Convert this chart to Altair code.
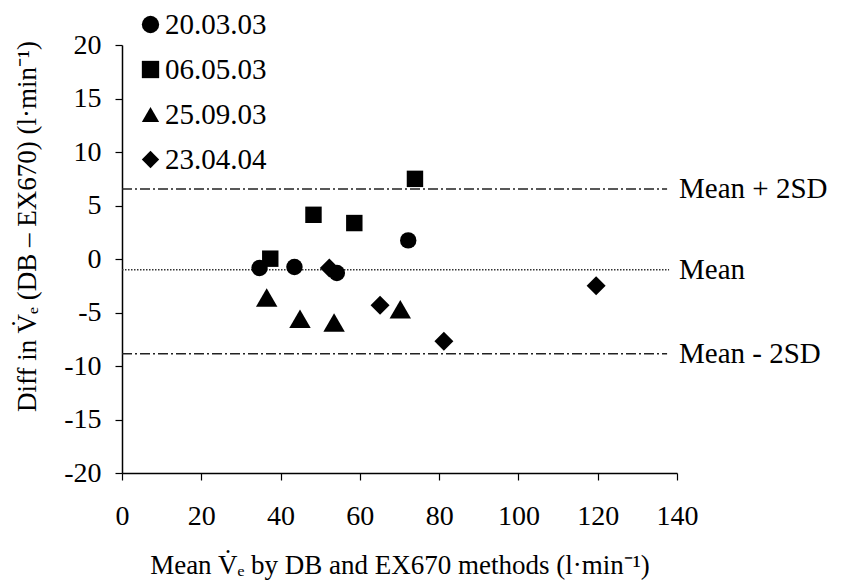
import altair as alt
import pandas as pd

# ---- data ----
session = ["20.03.03"] * 4 + ["06.05.03"] * 4 + ["25.09.03"] * 4 + ["23.04.04"] * 4
mean_ve = [34.7, 43.5, 54.2, 72.2,
           37.4, 48.3, 58.6, 73.9,
           36.5, 44.9, 53.5, 70.2,
           52.3, 65.1, 81.2, 119.6]
diff_ve = [-0.84, -0.75, -1.31, 1.74,
           0.03, 4.13, 3.36, 7.49,
           -3.59, -5.59, -5.93, -4.70,
           -0.84, -4.33, -7.69, -2.49]

session_order = ["20.03.03", "06.05.03", "25.09.03", "23.04.04"]
session_shapes = ["circle", "square", "triangle-up", "diamond"]

line_names = ["Mean + 2SD", "Mean", "Mean - 2SD"]
line_values = [6.55, -1.0, -8.85]
line_start = [0, 0, 0]
line_end = [137.5, 138.0, 137.5]
line_kind = ["limit", "mean", "limit"]
label_x = [140, 140, 140]

x_ticks = [0, 20, 40, 60, 80, 100, 120, 140]
y_ticks = [-20, -15, -10, -5, 0, 5, 10, 15, 20]

FONT = "Liberation Serif"

points = pd.DataFrame({"session": session, "mean": mean_ve, "diff": diff_ve})
lines = pd.DataFrame({"name": line_names, "y": line_values, "x0": line_start,
                      "x1": line_end, "kind": line_kind, "lx": label_x})

xscale = alt.Scale(domain=[0, 140], nice=False, zero=False)
yscale = alt.Scale(domain=[-20, 20], nice=False, zero=False)

x_title = "Mean V\u0307\u2091  by DB and EX670 methods (l\u00b7min\u207b\u00b9)"
y_title = "Diff in V\u0307\u2091 (DB \u2013 EX670) (l\u00b7min\u207b\u00b9)"

x_axis = alt.Axis(values=x_ticks, title=x_title, grid=False, labelFlush=False,
                  tickSize=7, labelPadding=22, labelFontSize=28,
                  labelExpr="'' + datum.value",
                  titleFontSize=27, titleFontWeight="normal",
                  titleBaseline="alphabetic", titleY=100)
y_axis = alt.Axis(values=y_ticks, title=y_title, grid=False, labelFlush=False,
                  tickSize=7, labelPadding=14, labelFontSize=28,
                  labelExpr="'' + datum.value",
                  titleFontSize=27, titleFontWeight="normal",
                  titleAngle=270, titleBaseline="middle", titleAlign="center",
                  titleX=-95, titleY=181)

legend = alt.Legend(title=None, orient="none", legendX=14, legendY=-35,
                    labelFont=FONT, labelFontSize=29, labelColor="black",
                    symbolSize=300,
                    symbolFillColor="black", symbolStrokeColor="black",
                    symbolStrokeWidth=0, symbolOpacity=1,
                    rowPadding=15, labelOffset=0, padding=0)

pts = alt.Chart(points).transform_calculate(
    sz="datum.session == '25.09.03' ? 460 : (datum.session == '23.04.04' ? 360 : 270)"
).mark_point(filled=True, opacity=1, color="black").encode(
    x=alt.X("mean:Q", scale=xscale, axis=x_axis),
    y=alt.Y("diff:Q", scale=yscale, axis=y_axis),
    shape=alt.Shape("session:N",
                    scale=alt.Scale(domain=session_order, range=session_shapes),
                    sort=session_order, legend=legend),
    size=alt.Size("sz:Q", scale=None),
)

limit_rules = alt.Chart(lines).transform_filter(alt.datum.kind == "limit").mark_rule(
    color="#222222", strokeWidth=1.5, strokeDash=[10, 3, 2, 3]).encode(
    x=alt.X("x0:Q", scale=xscale, axis=x_axis),
    x2="x1:Q",
    y=alt.Y("y:Q", scale=yscale, axis=y_axis),
)

mean_rule = alt.Chart(lines).transform_filter(alt.datum.kind == "mean").mark_rule(
    color="#333333", strokeWidth=1.5, strokeDash=[1.5, 1.5]).encode(
    x=alt.X("x0:Q", scale=xscale, axis=x_axis),
    x2="x1:Q",
    y=alt.Y("y:Q", scale=yscale, axis=y_axis),
)

labels = alt.Chart(lines).mark_text(align="left", baseline="middle", dx=2,
                                    font=FONT, fontSize=29, color="black").encode(
    x=alt.X("lx:Q", scale=xscale, axis=x_axis),
    y=alt.Y("y:Q", scale=yscale, axis=y_axis),
    text="name:N",
)

chart = alt.layer(limit_rules, mean_rule, labels, pts).properties(
    width=555, height=428,
    autosize=alt.AutoSizeParams(type="none"),
    padding={"left": 122, "top": 45, "right": 164, "bottom": 109},
    background="white",
).configure_view(stroke=None).configure_axis(
    labelFont=FONT, titleFont=FONT, labelColor="black", titleColor="black",
    domainColor="black", domainWidth=1.5, tickColor="black", tickWidth=1.2,
)

chart.save("out.html", embed_options={"renderer": "svg", "actions": False})
